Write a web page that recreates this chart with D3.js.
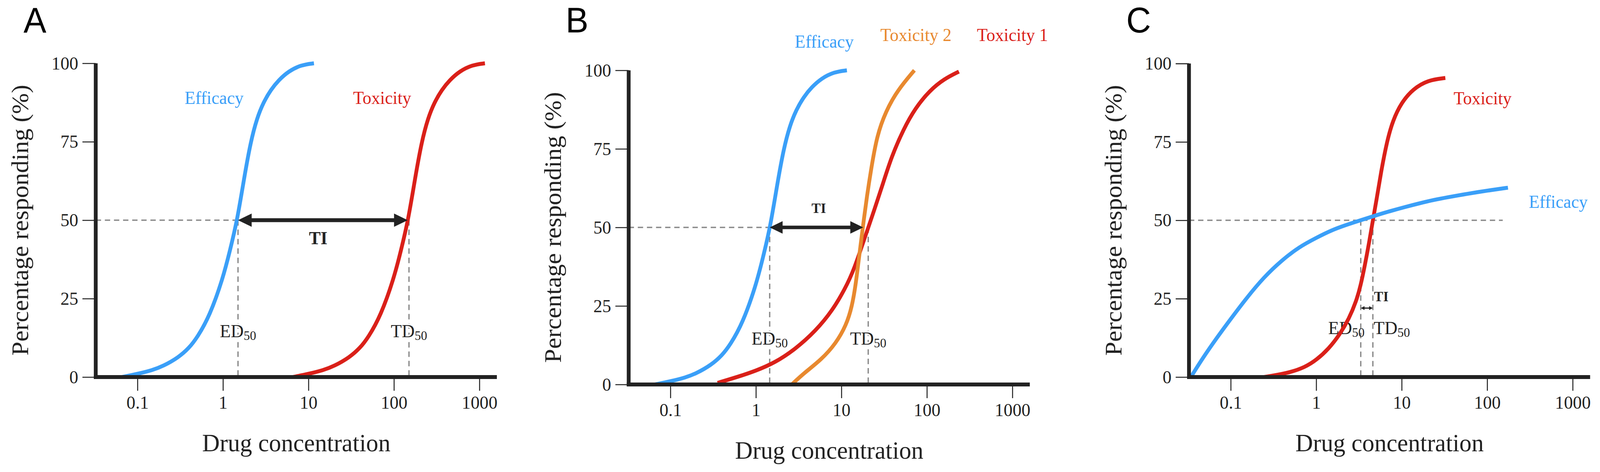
<!DOCTYPE html>
<html>
<head>
<meta charset="utf-8">
<script src="https://cdn.jsdelivr.net/npm/d3@7"></script>
<style>
  html, body { margin: 0; padding: 0; background: #fff; overflow: hidden; }
  svg { display: block; }
</style>
</head>
<body>
<div id="chart"></div>
<script>
// ---- data ----
const x_ticks = [0.1, 1, 10, 100, 1000]
const x_tick_labels = ['0.1', '1', '10', '100', '1000']
const y_ticks = [0, 25, 50, 75, 100]

// efficacy curve, same in A and B
const efficacy_conc = [0.066, 0.1, 0.15, 0.2, 0.3, 0.4, 0.5, 0.7, 1.0, 1.2, 1.47, 1.77, 2.11, 2.5, 2.97, 3.64, 4.47, 5.87, 8.26, 11.6]
const efficacy_pct  = [0, 1.0, 2.2, 3.5, 6.2, 9.2, 12.6, 19.5, 31.5, 40, 50, 63.5, 75, 82.5, 87.5, 91.6, 94.6, 97.5, 99.5, 100]

// A toxicity
const tox_a_conc = [6.6, 10, 15, 20, 30, 40, 50, 70, 100, 120, 147, 177, 211, 250, 297, 364, 447, 587, 826, 1160]
const tox_a_pct  = [0, 1.0, 2.2, 3.5, 6.2, 9.2, 12.6, 19.5, 31.5, 40, 50, 63.5, 75, 82.5, 87.5, 91.6, 94.6, 97.5, 99.5, 100]

// B toxicity 1 and toxicity 2
const tox1_b_conc = [0.356, 0.643, 0.984, 1.66, 2.88, 4.99, 7.94, 10.98, 13.9, 20.6, 24.1, 30.6, 38.7, 53.1, 72.8, 108, 160, 237]
const tox1_b_pct  = [0.5, 2.6, 4.3, 6.9, 11.2, 17.0, 23.7, 30.4, 36.1, 50.0, 55.3, 63.9, 72.6, 81.2, 87.9, 93.6, 97.3, 99.6]
const tox2_b_conc = [2.63, 3.64, 5.83, 8.65, 11.4, 13.3, 14.8, 16.0, 17.2, 18.3, 19.8, 22.3, 26.1, 33.0, 45.2, 71.4]
const tox2_b_pct  = [0, 3.6, 7.9, 13.1, 18.9, 24.7, 32.3, 40.0, 46.7, 52.5, 59.5, 68.7, 79.3, 86.9, 93.6, 100]

// C efficacy and toxicity
const eff_c_conc = [0.0342, 0.0469, 0.0695, 0.0998, 0.153, 0.245, 0.394, 0.631, 1.0, 1.5, 2.23, 3.3, 4.9, 7.26, 10.8, 16.0, 23.7, 35.1, 52.1, 77.3, 115, 175]
const eff_c_pct  = [0, 6.0, 12.7, 18.5, 25.2, 31.9, 37.2, 41.5, 44.4, 46.8, 48.5, 50.0, 51.5, 52.9, 54.2, 55.4, 56.5, 57.4, 58.2, 59.0, 59.7, 60.4]
const tox_c_conc = [0.245, 0.461, 0.739, 1.01, 1.39, 1.90, 2.41, 2.94, 3.30, 3.72, 4.19, 4.60, 5.10, 5.74, 6.71, 7.86, 9.95, 13.6, 20.2, 32.4]
const tox_c_pct  = [0, 1.2, 3.1, 5.5, 8.9, 13.7, 18.5, 24.2, 29.0, 35.8, 43.4, 50.0, 56.8, 65.5, 75.1, 81.8, 87.6, 91.9, 94.7, 95.4]

// ED50 / TD50 / arrow ends per panel
const ed50_values = [1.5, 1.45, 3.32]
const td50_values = [150, 20.6, 4.6]
const arrow_end = [145, 18.0, 4.6]
const arrow_pct = [50, 50, 22]

// ---- styles ----
const blue = '#3a9ff8'
const red = '#da2019'
const orange = '#e8892f'
const ink = '#222222'
const dash_color = '#8a8a8a'
const serif = '"Liberation Serif", "Times New Roman", Times, serif'

const svg_width = 4212
const svg_height = 1208
const plot_width = 1056
const x_domain = [0.0325, 1600]

// viewBox keeps the full figure inside whatever window we get
const svg = d3.select('#chart')
  .append('svg')
  .attr('viewBox', `0 0 ${svg_width} ${svg_height}`)
  .attr('preserveAspectRatio', 'none')
  .style('width', '100vw')
  .style('height', '100vh')

const panels = [
  {
    letter: 'A', letter_x: 62, left: 252, top: 162, bottom: 965,
    curves: [
      {conc: efficacy_conc, pct: efficacy_pct, color: blue},
      {conc: tox_a_conc, pct: tox_a_pct, color: red}
    ],
    labels: [
      {text: 'Efficacy', conc: 1.74, pct: 87, anchor: 'end', color: blue},
      {text: 'Toxicity', conc: 159, pct: 87, anchor: 'end', color: red}
    ],
    hline_to: 0, ti: {conc: 13, pct: 42.3, size: 46},
    arrow: {shaft: 10, head: 36, half: 17},
    sub_pct: 12.7, sub_mode: 'center'
  },
  {
    letter: 'B', letter_x: 1489, left: 1655, top: 180, bottom: 984,
    curves: [
      {conc: efficacy_conc, pct: efficacy_pct, color: blue},
      {conc: tox1_b_conc, pct: tox1_b_pct, color: red},
      {conc: tox2_b_conc, pct: tox2_b_pct, color: orange}
    ],
    labels: [
      {text: 'Efficacy', conc: 13.9, pct: 107.2, anchor: 'end', color: blue},
      {text: 'Toxicity 2', conc: 194, pct: 109.3, anchor: 'end', color: orange},
      {text: 'Toxicity 1', conc: 385, pct: 109.3, anchor: 'start', color: red}
    ],
    hline_to: 0, ti: {conc: 5.44, pct: 54.6, size: 36},
    arrow: {shaft: 9, head: 34, half: 16},
    sub_pct: 12.7, sub_mode: 'center'
  },
  {
    letter: 'C', letter_x: 2965, left: 3130, top: 162.6, bottom: 965,
    curves: [
      {conc: tox_c_conc, pct: tox_c_pct, color: red},
      {conc: eff_c_conc, pct: eff_c_pct, color: blue}
    ],
    labels: [
      {text: 'Toxicity', conc: 40.5, pct: 87, anchor: 'start', color: red},
      {text: 'Efficacy', conc: 307, pct: 54, anchor: 'start', color: blue}
    ],
    hline_to: 152, ti: {conc: 4.75, pct: 24.2, size: 36, anchor: 'start'},
    arrow: {shaft: 3, head: 10, half: 5},
    sub_pct: 13.7, sub_mode: 'split'
  }
]

panels.forEach((p, i) => {
  const xScale = d3.scaleLog()
    .domain(x_domain)
    .range([p.left, p.left + plot_width])

  const yScale = d3.scaleLinear()
    .domain([0, 100])
    .range([p.bottom, p.top])

  const g = svg.append('g').attr('class', 'panel')

  // dashed guide lines
  const ed = ed50_values[i]
  const td = td50_values[i]
  const dashed = [
    [x_domain[0], 50, p.hline_to || ed, 50],
    [ed, 50, ed, 0],
    [td, 50, td, 0]
  ]
  g.selectAll('line.guide')
    .data(dashed)
    .join('line')
      .attr('class', 'guide')
      .attr('x1', d => xScale(d[0]))
      .attr('y1', d => yScale(d[1]))
      .attr('x2', d => xScale(d[2]))
      .attr('y2', d => yScale(d[3]))
      .attr('stroke', dash_color)
      .attr('stroke-width', 3.5)
      .attr('stroke-dasharray', '14 10')

  // ED50 / TD50 labels
  const subs = p.sub_mode === 'center'
    ? [{main: 'ED', conc: ed, anchor: 'middle', dx: 0}, {main: 'TD', conc: td, anchor: 'middle', dx: 0}]
    : [{main: 'ED', conc: ed, anchor: 'end', dx: 10}, {main: 'TD', conc: td, anchor: 'start', dx: 2}]
  const sub_text = g.selectAll('text.sub')
    .data(subs)
    .join('text')
      .attr('class', 'sub')
      .attr('x', d => xScale(d.conc) + d.dx)
      .attr('y', yScale(p.sub_pct))
      .attr('text-anchor', d => d.anchor)
      .attr('font-family', serif)
      .attr('font-size', 47)
      .attr('fill', ink)
  if (p.sub_mode === 'center') {
    sub_text.attr('stroke', '#fff').attr('stroke-width', 8).attr('paint-order', 'stroke')
  }
  sub_text.append('tspan').text(d => d.main)
  sub_text.append('tspan').text('50').attr('font-size', 33).attr('dy', 7)

  // curves
  const line = d3.line()
    .x(d => xScale(d[0]))
    .y(d => yScale(d[1]))
    .curve(d3.curveBasis)

  g.selectAll('path.curve')
    .data(p.curves)
    .join('path')
      .attr('class', 'curve')
      .attr('d', d => line(d3.zip(d.conc, d.pct)))
      .attr('fill', 'none')
      .attr('stroke', d => d.color)
      .attr('stroke-width', 10)

  // TI arrow
  const ax1 = xScale(ed)
  const ax2 = xScale(arrow_end[i])
  const ay = yScale(arrow_pct[i])
  const a = p.arrow
  g.append('line')
    .attr('x1', ax1 + a.head - 2)
    .attr('x2', ax2 - a.head + 2)
    .attr('y1', ay)
    .attr('y2', ay)
    .attr('stroke', ink)
    .attr('stroke-width', a.shaft)
  g.append('path')
    .attr('d', `M${ax1},${ay}L${ax1 + a.head},${ay - a.half}L${ax1 + a.head},${ay + a.half}Z` +
               `M${ax2},${ay}L${ax2 - a.head},${ay - a.half}L${ax2 - a.head},${ay + a.half}Z`)
    .attr('fill', ink)

  g.append('text')
    .text('TI')
    .attr('x', xScale(p.ti.conc))
    .attr('y', yScale(p.ti.pct))
    .attr('text-anchor', p.ti.anchor || 'middle')
    .attr('font-family', serif)
    .attr('font-weight', 'bold')
    .attr('font-size', p.ti.size)
    .attr('fill', ink)

  // curve labels
  g.selectAll('text.curve-label')
    .data(p.labels)
    .join('text')
      .attr('class', 'curve-label')
      .text(d => d.text)
      .attr('x', d => xScale(d.conc))
      .attr('y', d => yScale(d.pct))
      .attr('text-anchor', d => d.anchor)
      .attr('font-family', serif)
      .attr('font-size', 46)
      .attr('fill', d => d.color)

  // axes: ticks from d3, thick spines drawn on top
  const yAxis = g.append('g')
    .attr('transform', `translate(${p.left},0)`)
    .call(d3.axisLeft(yScale).tickValues(y_ticks).tickSize(35).tickPadding(11))
  const xAxis = g.append('g')
    .attr('transform', `translate(0,${p.bottom})`)
    .call(d3.axisBottom(xScale).tickValues(x_ticks)
      .tickFormat((d, k) => x_tick_labels[k]).tickSize(35).tickPadding(13))

  ;[yAxis, xAxis].forEach(ax => {
    ax.select('.domain').remove()
    ax.attr('font-family', serif).attr('font-size', 47)
    ax.selectAll('.tick line').attr('stroke', ink).attr('stroke-width', 2.6)
    ax.selectAll('.tick text').attr('fill', ink)
  })

  g.append('line')
    .attr('x1', p.left)
    .attr('x2', p.left)
    .attr('y1', yScale(0) + 5)
    .attr('y2', yScale(100))
    .attr('stroke', ink)
    .attr('stroke-width', 10)
  g.append('line')
    .attr('x1', p.left - 5)
    .attr('x2', p.left + plot_width)
    .attr('y1', yScale(0))
    .attr('y2', yScale(0))
    .attr('stroke', ink)
    .attr('stroke-width', 10)

  // axis titles
  g.append('text')
    .text('Percentage responding (%)')
    .attr('transform', `translate(${p.left - 178},${(p.top + p.bottom) / 2}) rotate(-90)`)
    .attr('text-anchor', 'middle')
    .attr('font-family', serif)
    .attr('font-size', 64)
    .attr('fill', ink)

  g.append('text')
    .text('Drug concentration')
    .attr('x', p.left + plot_width / 2)
    .attr('y', p.bottom + 190)
    .attr('text-anchor', 'middle')
    .attr('font-family', serif)
    .attr('font-size', 64)
    .attr('fill', ink)

  // panel letter
  svg.append('text')
    .text(p.letter)
    .attr('x', p.letter_x)
    .attr('y', 83)
    .attr('font-family', '"Liberation Sans", Arial, sans-serif')
    .attr('font-size', 90)
    .attr('fill', '#000')
})
</script>
</body>
</html>
